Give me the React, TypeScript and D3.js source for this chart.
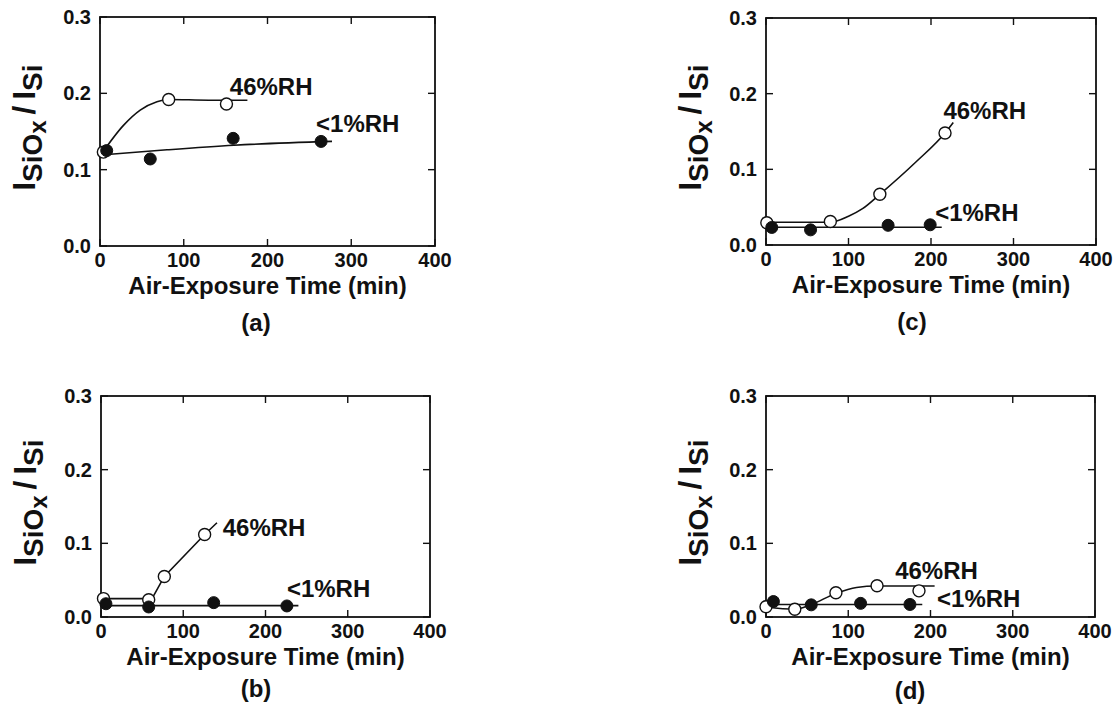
import React from 'react';
import * as d3 from 'd3';

type Pt = [number, number];

// axis ticks
const xTicks = [0, 100, 200, 300, 400];
const xTickLabels = ['0', '100', '200', '300', '400'];
const yTicks = [0, 0.1, 0.2, 0.3];
const yTickLabels = ['0.0', '0.1', '0.2', '0.3'];
const xTitle = 'Air-Exposure Time (min)';
const wetName = '46%RH';
const dryName = '<1%RH';

// (a) measured points [min, ratio] and hand-drawn guide curves
const aWet: Pt[] = [[4, 0.123], [82, 0.192], [151, 0.186]];
const aDry: Pt[] = [[8, 0.125], [60, 0.114], [159, 0.141], [264, 0.137]];
const aWetFit: Pt[] = [[2, 0.121], [28, 0.158], [48, 0.178], [68, 0.189], [82, 0.192], [130, 0.191], [176, 0.191]];
const aDryFit: Pt[] = [[0, 0.119], [80, 0.126], [160, 0.132], [277, 0.137]];

// (b)
const bWet: Pt[] = [[3, 0.025], [58, 0.0235], [77, 0.055], [126, 0.112]];
const bDry: Pt[] = [[6, 0.018], [58, 0.0136], [137, 0.0195], [226, 0.015]];
const bWetFit: Pt[] = [[0, 0.025], [62, 0.025], [77, 0.055], [126, 0.112], [141, 0.128]];
const bDryFit: Pt[] = [[0, 0.0155], [240, 0.0155]];

// (c)
const cWet: Pt[] = [[1, 0.0295], [78, 0.031], [138, 0.067], [217, 0.148]];
const cDry: Pt[] = [[7, 0.0232], [54, 0.02], [148, 0.026], [199, 0.0267]];
const cWetFit: Pt[] = [[0, 0.03], [78, 0.03], [100, 0.038], [117, 0.048], [138, 0.067], [182, 0.11], [217, 0.148], [227, 0.162]];
const cDryFit: Pt[] = [[0, 0.0235], [213, 0.0235]];

// (d)
const dWet: Pt[] = [[0, 0.014], [35, 0.0105], [85, 0.033], [135, 0.0425], [186, 0.0355]];
const dDry: Pt[] = [[9, 0.021], [55, 0.0165], [115, 0.0185], [175, 0.017]];
const dWetFit: Pt[] = [[0, 0.0135], [35, 0.0105], [55, 0.017], [85, 0.032], [110, 0.04], [135, 0.042], [205, 0.042]];
const dDryFit: Pt[] = [[0, 0.017], [190, 0.017]];

const FONT = '"Liberation Sans", Arial, Helvetica, sans-serif';
const INK = '#111';

// layout: pixel box of each plot, label anchors in data units
const panels = [
  {
    caption: '(a)', left: 100, right: 435, top: 17, bottom: 246, capX: 256, capY: 331,
    wet: aWet, dry: aDry, wetFit: aWetFit, dryFit: aDryFit, curve: d3.curveMonotoneX,
    wetLabel: [155, 0.198] as Pt, dryLabel: [258, 0.15] as Pt,
  },
  {
    caption: '(b)', left: 101, right: 430, top: 396, bottom: 617, capX: 256, capY: 697,
    wet: bWet, dry: bDry, wetFit: bWetFit, dryFit: bDryFit, curve: d3.curveLinear,
    wetLabel: [148, 0.11] as Pt, dryLabel: [226, 0.0276] as Pt,
  },
  {
    caption: '(c)', left: 766, right: 1096, top: 18, bottom: 245, capX: 912, capY: 330,
    wet: cWet, dry: cDry, wetFit: cWetFit, dryFit: cDryFit, curve: d3.curveMonotoneX,
    wetLabel: [215, 0.167] as Pt, dryLabel: [205, 0.0317] as Pt,
  },
  {
    caption: '(d)', left: 766, right: 1095, top: 396, bottom: 617, capX: 910, capY: 699,
    wet: dWet, dry: dDry, wetFit: dWetFit, dryFit: dDryFit, curve: d3.curveMonotoneX,
    wetLabel: [157, 0.0516] as Pt, dryLabel: [208, 0.0136] as Pt,
  },
];

function Panel({ p }: { p: (typeof panels)[number] }) {
  const x = d3.scaleLinear().domain([0, 400]).range([p.left, p.right]);
  const y = d3.scaleLinear().domain([0, 0.3]).range([p.bottom, p.top]);
  const line = d3
    .line<Pt>()
    .x((d) => x(d[0]))
    .y((d) => y(d[1]))
    .curve(p.curve);
  const tick = 7;
  const cy = (p.top + p.bottom) / 2 - 4;

  return (
    <g>
      {/* guide curves */}
      <path d={line(p.wetFit) || ''} fill="none" stroke={INK} strokeWidth={1.6} />
      <path d={line(p.dryFit) || ''} fill="none" stroke={INK} strokeWidth={1.6} />

      {/* frame */}
      <rect
        x={p.left}
        y={p.top}
        width={p.right - p.left}
        height={p.bottom - p.top}
        fill="none"
        stroke={INK}
        strokeWidth={1.8}
      />
      {xTicks.map((t) => (
        <g key={'xt' + t}>
          <line x1={x(t)} x2={x(t)} y1={p.bottom} y2={p.bottom - tick} stroke={INK} strokeWidth={1.4} />
          <line x1={x(t)} x2={x(t)} y1={p.top} y2={p.top + tick} stroke={INK} strokeWidth={1.4} />
        </g>
      ))}
      {yTicks.map((v) => (
        <g key={'yt' + v}>
          <line x1={p.left} x2={p.left + tick} y1={y(v)} y2={y(v)} stroke={INK} strokeWidth={1.4} />
          <line x1={p.right} x2={p.right - tick} y1={y(v)} y2={y(v)} stroke={INK} strokeWidth={1.4} />
        </g>
      ))}

      {/* markers: open = 46%RH, filled = <1%RH */}
      {p.wet.map((d, i) => (
        <circle key={'w' + i} cx={x(d[0])} cy={y(d[1])} r={6} fill="#fff" stroke={INK} strokeWidth={1.4} />
      ))}
      {p.dry.map((d, i) => (
        <circle key={'d' + i} cx={x(d[0])} cy={y(d[1])} r={6} fill={INK} stroke={INK} strokeWidth={1} />
      ))}

      <g fontFamily={FONT} fontWeight="bold" fill={INK}>
        {xTicks.map((t, i) => (
          <text key={'xl' + t} x={x(t)} y={p.bottom + 21} fontSize={20} textAnchor="middle">
            {xTickLabels[i]}
          </text>
        ))}
        {yTicks.map((v, i) => (
          <text key={'yl' + v} x={p.left - 9} y={y(v) + 7} fontSize={20} textAnchor="end">
            {yTickLabels[i]}
          </text>
        ))}
        <text x={(p.left + p.right) / 2} y={p.bottom + 48} fontSize={24} textAnchor="middle">
          {xTitle}
        </text>
        <text x={x(p.wetLabel[0])} y={y(p.wetLabel[1])} fontSize={24}>
          {wetName}
        </text>
        <text x={x(p.dryLabel[0])} y={y(p.dryLabel[1])} fontSize={24}>
          {dryName}
        </text>
        <text x={p.capX} y={p.capY} fontSize={24} textAnchor="middle">
          {p.caption}
        </text>
        <text transform={`translate(${p.left - 65},${cy}) rotate(-90)`} textAnchor="middle">
          <tspan fontSize={31}>I</tspan>
          <tspan fontSize={28} dy={7}>SiO</tspan>
          <tspan fontSize={24} dy={4}>x</tspan>
          <tspan fontSize={32} dy={-11} dx={6}>/</tspan>
          <tspan fontSize={31} dx={6}>I</tspan>
          <tspan fontSize={28} dy={7}>Si</tspan>
        </text>
      </g>
    </g>
  );
}

export default function App() {
  return (
    <svg
      width={1119}
      height={709}
      style={{ position: 'absolute', left: 0, top: 0, background: '#fff' }}
    >
      <rect width={1119} height={709} fill="#fff" />
      {panels.map((p) => (
        <Panel key={p.caption} p={p} />
      ))}
    </svg>
  );
}
